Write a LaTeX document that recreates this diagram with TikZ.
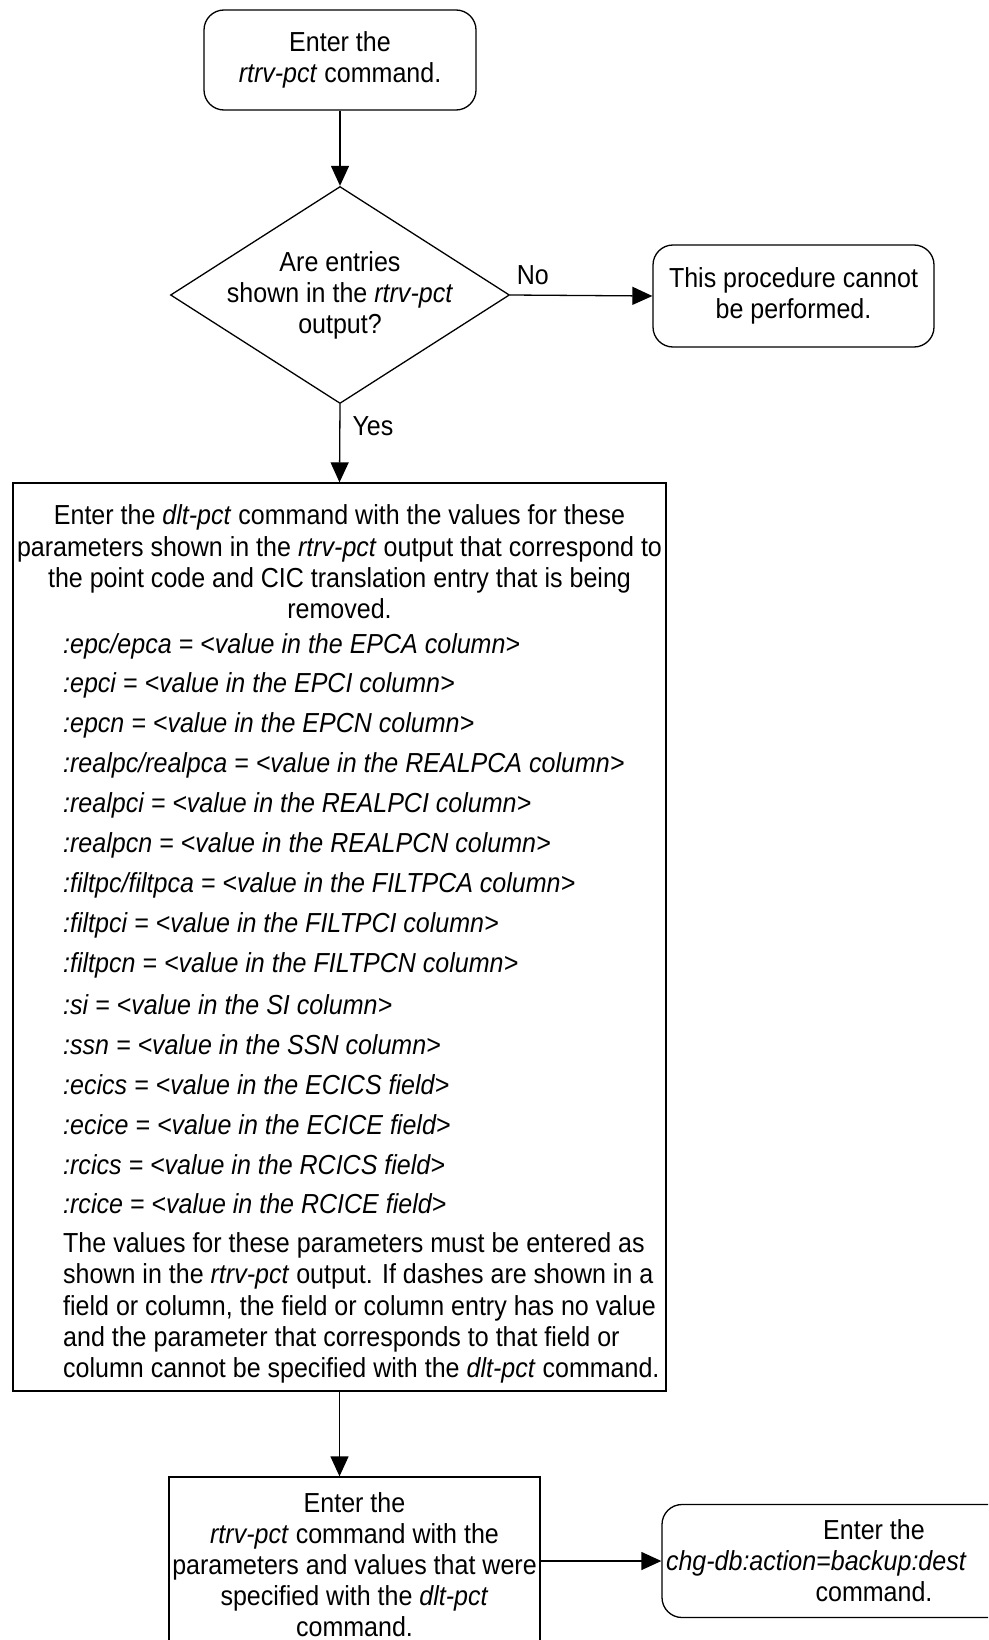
\documentclass[tikz,border=0pt]{standalone}
\usepackage{fontspec}
\setmainfont{Liberation Sans}[FakeStretch=0.91]
\usepackage{tikz}
\usetikzlibrary{arrows.meta}
\usetikzlibrary{shapes.geometric,positioning}
\tikzset{
    flowarrow/.style={
        line width=1.3pt,
        black,
        -{Triangle[length=20pt, width=18pt]}
    },
    % rounded boxes for start and end steps
    roundbox/.style={
        draw, line width=1.3pt, rounded corners=20pt,
        align=center, inner sep=0pt,
        font=\fontsize{27.5}{31}\selectfont
    },
    % plain boxes for the steps in between
    stepbox/.style={
        draw, line width=1.3pt,
        align=center, inner sep=0pt,
        font=\fontsize{27.5}{31}\selectfont
    },
    decision/.style={
        draw, diamond, line width=1.3pt,
        align=center, inner sep=-30pt,
        minimum width=339pt, minimum height=217pt,
        font=\fontsize{27.5}{31}\selectfont
    },
    plaintext/.style={font=\fontsize{27.5}{31.4}\selectfont, inner sep=0pt},
    paramtext/.style={font=\fontsize{27.5}{31}\selectfont\itshape, inner sep=0pt, anchor=west}
}

\begin{document}
\begin{tikzpicture}[x=1pt, y=-1pt]
    \useasboundingbox (0,0) rectangle (988,1640);
    \clip (0,0) rectangle (988,1640);
    \node[roundbox, minimum width=272pt, minimum height=100pt] (rtrv) at (340,60)
        {Enter the\\\textit{rtrv-pct} command.};
    \node[decision] (chk) at (340,295)
        {Are entries\\shown in the \textit{rtrv-pct}\\output?};
    \node[roundbox, minimum width=281pt, minimum height=102pt] (nogo) at (793.5,296)
        {This procedure cannot\\be performed.};
    \node[stepbox, minimum width=653pt, minimum height=908pt] (dlt) at (339.5,937) {};
    \node[stepbox, minimum width=371pt, minimum height=176pt] (verify) at (354.5,1565)
        {Enter the\\\textit{rtrv-pct} command with the\\parameters and values that were\\specified with the \textit{dlt-pct}\\command.};
    \node[roundbox, minimum width=424pt, minimum height=113pt] (backup) at (874,1561)
        {Enter the\\\makebox[0pt][l]{\hspace{-208pt}\textit{chg-db:action=backup:dest}}\\command.};

    % text of the big step
    \node[plaintext, align=center] (dlthead) at (339.5,562)
        {Enter the \textit{dlt-pct} command with the values for these\\
         parameters shown in the \textit{rtrv-pct} output that correspond to\\
         the point code and CIC translation entry that is being\\
         removed.};
    \foreach \t [count=\i] in {
        :epc/epca = <value in the EPCA column>,
        :epci = <value in the EPCI column>,
        :epcn = <value in the EPCN column>,
        :realpc/realpca = <value in the REALPCA column>,
        :realpci = <value in the REALPCI column>,
        :realpcn = <value in the REALPCN column>,
        :filtpc/filtpca = <value in the FILTPCA column>,
        :filtpci = <value in the FILTPCI column>,
        :filtpcn = <value in the FILTPCN column>,
        :si = <value in the SI column>,
        :ssn = <value in the SSN column>,
        :ecics = <value in the ECICS field>,
        :ecice = <value in the ECICE field>,
        :rcics = <value in the RCICS field>,
        :rcice = <value in the RCICE field>}
        \node[paramtext] (p\i) at (63,{646+39.86*(\i-1)}) {\t};
    \node[plaintext, align=left, anchor=west] (dltnote) at (63,1308)
        {The values for these parameters must be entered as\\
         shown in the \textit{rtrv-pct} output. If dashes are shown in a\\
         field or column, the field or column entry has no value\\
         and the parameter that corresponds to that field or\\
         column cannot be specified with the \textit{dlt-pct} command.};

    \draw[flowarrow] (rtrv) -- (chk);
    \draw[flowarrow] (chk.east) -- node[plaintext, above=10pt, pos=0.16] (no) {No} (nogo.west);
    \draw[flowarrow] (chk.south) -- node[plaintext, right=12pt, pos=0.28] (yes) {Yes} (dlt.north);
    \draw[flowarrow] (dlt.south) -- (verify.north -| dlt.south);
    \draw[flowarrow] (verify.east |- backup.west) -- (backup.west);
\end{tikzpicture}
\end{document}
